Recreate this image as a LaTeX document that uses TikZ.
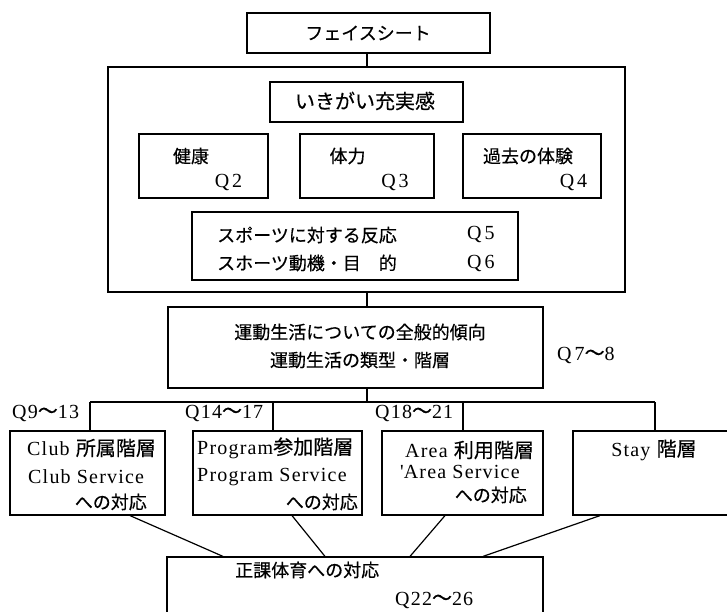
\documentclass[tikz,border=0pt]{standalone}
\usepackage{fontspec}
\setmainfont[LetterSpace=6]{Liberation Serif}
\newfontfamily\jpf[FakeBold=0.4]{Noto Sans CJK JP}
\newcommand\J[1]{{\jpf #1}}
\begin{document}
\begin{tikzpicture}[x=1pt,y=-1pt,
  box/.style={draw,line width=1.2pt,rectangle,inner sep=0pt},
  txt/.style={inner sep=0pt,font=\fontsize{18}{20}\selectfont},
  lat/.style={inner sep=0pt,font=\fontsize{20}{22}\selectfont},
  conn/.style={line width=1.2pt}]
\useasboundingbox (0,0) rectangle (727,612);
\clip (0,0) rectangle (727,612);
% boxes
\node[box,minimum width=243pt,minimum height=40pt] (face) at (368.5,33) {};
\node[box,minimum width=517pt,minimum height=225pt] (big) at (366.5,179.5) {};
\node[box,minimum width=193pt,minimum height=40pt] (ikigai) at (366.5,102) {};
\node[box,minimum width=129pt,minimum height=64pt] (kenko) at (203.5,166) {};
\node[box,minimum width=134pt,minimum height=64pt] (tairyoku) at (367,166) {};
\node[box,minimum width=138pt,minimum height=64pt] (kako) at (532,166) {};
\node[box,minimum width=326pt,minimum height=68pt] (sports) at (355,246) {};
\node[box,minimum width=375pt,minimum height=81pt] (mid) at (355.5,347.5) {};
\node[box,minimum width=155pt,minimum height=84pt] (club) at (87.5,473) {};
\node[box,minimum width=169pt,minimum height=84pt] (prog) at (277.5,473) {};
\node[box,minimum width=161pt,minimum height=84pt] (area) at (462.5,473) {};
\node[box,minimum width=167pt,minimum height=84pt] (stay) at (656.5,473) {};
\node[box,minimum width=376pt,minimum height=73pt] (bottom) at (355,593.5) {};
% texts
\node[txt] (tface) at (368,33) {\J{フェイスシート}};
\node[txt,font=\fontsize{20}{22}\selectfont] (tikigai) at (365,101) {\J{いきがい充実感}};
\node[txt] (tkenko) at (191,156) {\J{健康}};
\node[lat] (q2) at (228.5,183) {Q\kern3pt 2};
\node[txt] (ttairyoku) at (347.5,156) {\J{体力}};
\node[lat] (q3) at (395,183) {Q\kern3pt 3};
\node[txt] (tkako) at (528,156) {\J{過去の体験}};
\node[lat] (q4) at (573.5,183) {Q\kern3pt 4};
\node[txt,anchor=west] (ts1) at (217,235) {\J{スポーツに対する反応}};
\node[lat,anchor=west] (q5) at (467,235) {Q\kern3pt 5};
\node[txt,anchor=west] (ts2) at (217,263) {\J{スホーツ動機・目　的}};
\node[lat,anchor=west] (q6) at (467,263) {Q\kern3pt 6};
\node[txt] (tm1) at (360,332) {\J{運動生活についての全般的傾向}};
\node[txt] (tm2) at (360,360) {\J{運動生活の類型・階層}};
\node[lat,anchor=west] (q78) at (557,355) {Q\kern3pt 7\J{～}8};
\node[lat,anchor=west] (q913) at (12,413) {Q9\J{～}13};
\node[lat,anchor=west] (q1417) at (185,413) {Q14\J{～}17};
\node[lat,anchor=west] (q1821) at (375,413) {Q18\J{～}21};
\node[lat,anchor=west] (tc1) at (27,448) {Club \J{所属階層}};
\node[lat,anchor=west] (tc2) at (28,477) {Club Service};
\node[txt,anchor=east] (tc3) at (147,502) {\J{への対応}};
\node[lat,anchor=west] (tp1) at (197,448) {Program\J{参加階層}};
\node[lat,anchor=west] (tp2) at (197,477) {Program Service};
\node[txt,anchor=east] (tp3) at (358,502) {\J{への対応}};
\node[lat,anchor=west] (ta1) at (405,450) {Area \J{利用階層}};
\node[lat,anchor=west] (ta2) at (400,472) {\textquotesingle Area Service};
\node[txt,anchor=east] (ta3) at (527,495) {\J{への対応}};
\node[lat] (tst) at (654,450) {Stay \J{階層}};
\node[txt,anchor=west] (tb1) at (235,570) {\J{正課体育への対応}};
\node[lat,anchor=west] (q2226) at (395,600) {Q22\J{～}26};
% connectors
\coordinate (busL) at (90,402);
\coordinate (busP) at (273,402);
\coordinate (busA) at (463,402);
\coordinate (busR) at (655,402);
\coordinate (trunk) at (367,402);
\draw[conn] (face.south -| trunk) -- (big.north -| trunk);
\draw[conn] (big.south -| trunk) -- (mid.north -| trunk);
\draw[conn] (mid.south -| trunk) -- (trunk);
\draw[conn] (busL) -- (busR);
\draw[conn] (busL) -- (busL |- club.north);
\draw[conn] (busP) -- (busP |- prog.north);
\draw[conn] (busA) -- (busA |- area.north);
\draw[conn] (busR) -- (busR |- stay.north);
\draw[conn] ([xshift=42.5pt]club.south) -- ([xshift=-132pt]bottom.north);
\draw[conn] ([xshift=14.5pt]prog.south) -- ([xshift=-30pt]bottom.north);
\draw[conn] ([xshift=-17.5pt]area.south) -- ([xshift=55pt]bottom.north);
\draw[conn] ([xshift=-56.5pt]stay.south) -- ([xshift=128pt]bottom.north);
\end{tikzpicture}
\end{document}
